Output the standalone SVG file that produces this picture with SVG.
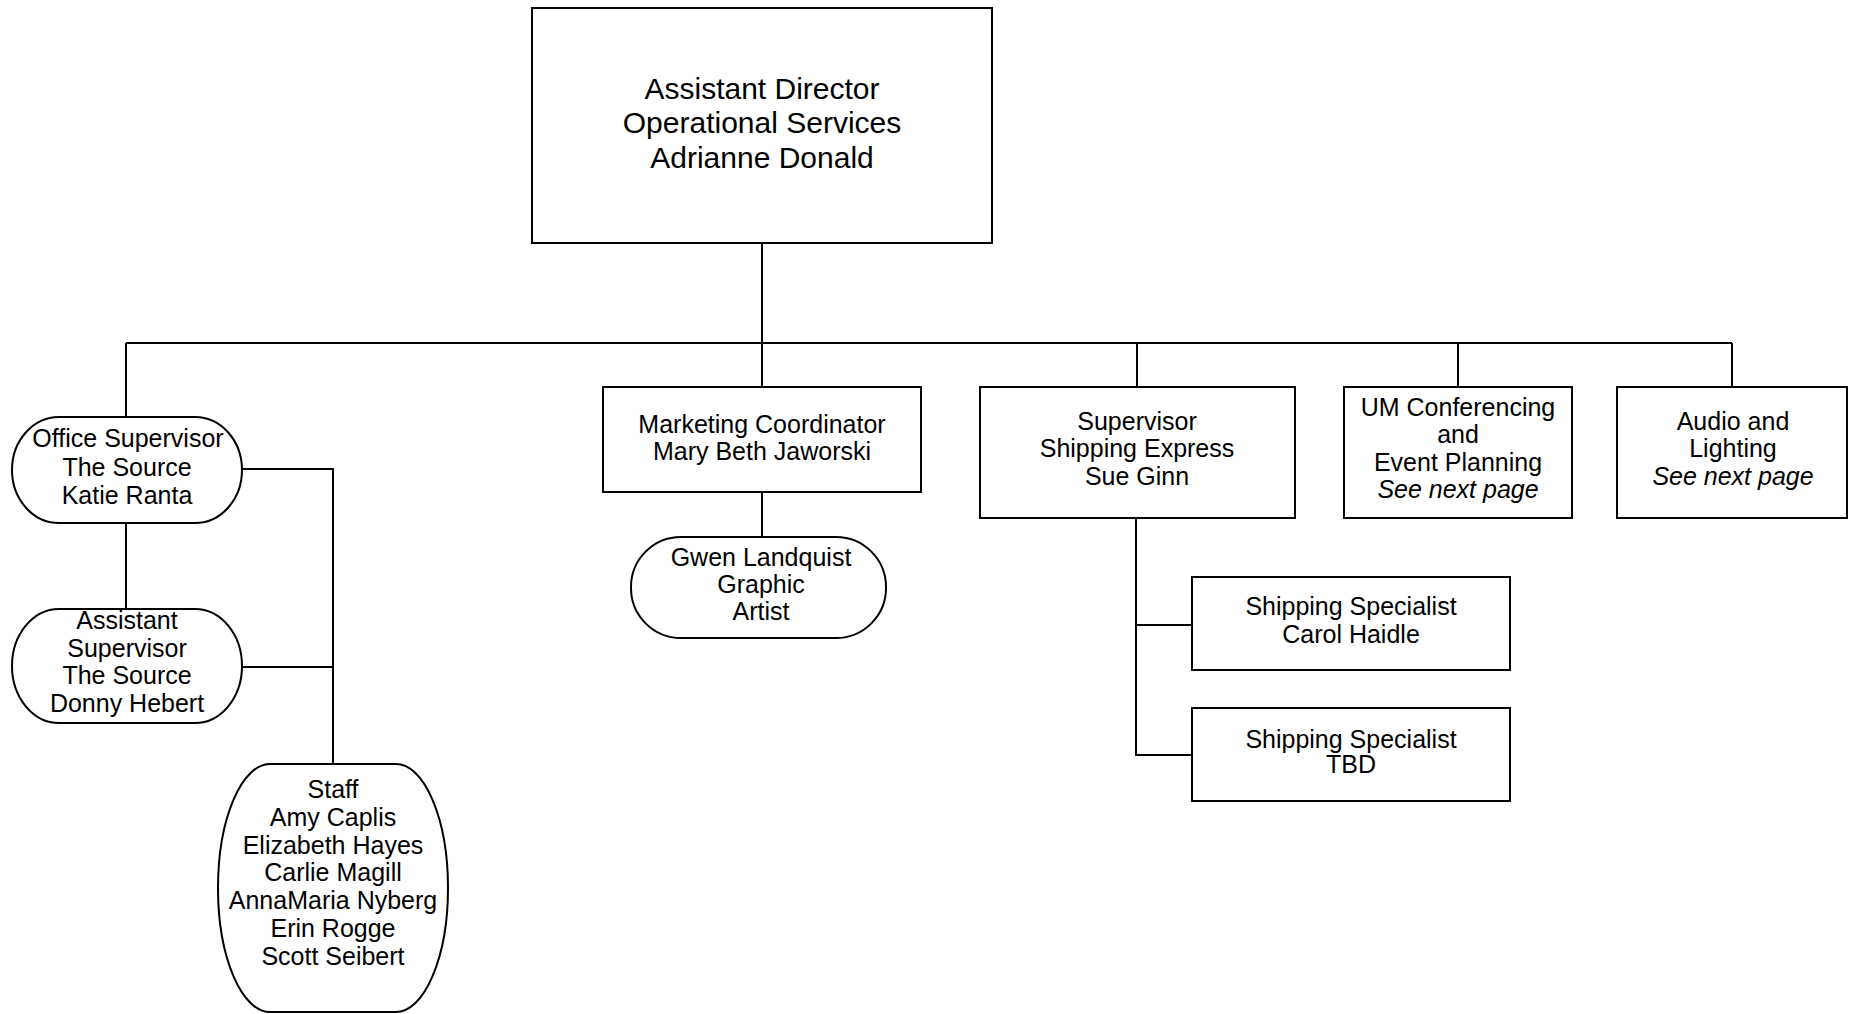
<svg xmlns="http://www.w3.org/2000/svg" width="1858" height="1014" viewBox="0 0 1858 1014">
<style>
.s{fill:#fff;stroke:#000;stroke-width:2}
.c{fill:none;stroke:#000;stroke-width:2}
text{font-family:"Liberation Sans",Arial,sans-serif;font-size:25px;fill:#000;text-anchor:middle}
.big{font-size:30px}
.it{font-style:italic}
</style>
<rect width="1858" height="1014" fill="#fff"/>
<g id="connectors">
<path class="c" d="M762 243V388"/>
<path class="c" d="M126 343H1732"/>
<path class="c" d="M126 343V417"/>
<path class="c" d="M1137 343V387"/>
<path class="c" d="M1458 343V387"/>
<path class="c" d="M1732 343V387"/>
<path class="c" d="M762 492V537"/>
<path class="c" d="M126 523V609"/>
<path class="c" d="M242 469H333V764"/>
<path class="c" d="M242 667H333"/>
<path class="c" d="M1136 518V755H1192"/>
<path class="c" d="M1136 625H1192"/>
</g>
<g id="assistant-director">
<rect class="s" x="532" y="8" width="460" height="235"/>
<text class="big" x="762" y="99">Assistant Director</text>
<text class="big" x="762" y="133">Operational Services</text>
<text class="big" x="762" y="168">Adrianne Donald</text>
</g>
<g id="marketing">
<rect class="s" x="603" y="387" width="318" height="105"/>
<text x="762" y="433">Marketing Coordinator</text>
<text x="762" y="460">Mary Beth Jaworski</text>
</g>
<g id="gwen">
<rect class="s" x="631" y="537" width="255" height="101" rx="50" ry="50"/>
<text x="761" y="566">Gwen Landquist</text>
<text x="761" y="593">Graphic</text>
<text x="761" y="620">Artist</text>
</g>
<g id="office-supervisor">
<rect class="s" x="12" y="417" width="230" height="106" rx="47" ry="53"/>
<text x="128" y="447">Office Supervisor</text>
<text x="127" y="476">The Source</text>
<text x="127" y="504">Katie Ranta</text>
</g>
<g id="assistant-supervisor">
<rect class="s" x="12" y="609" width="230" height="114" rx="47" ry="57"/>
<text x="127" y="629">Assistant</text>
<text x="127" y="657">Supervisor</text>
<text x="127" y="684">The Source</text>
<text x="127" y="712">Donny Hebert</text>
</g>
<g id="staff">
<rect class="s" x="218" y="764" width="230" height="248" rx="52" ry="124"/>
<text x="333" y="798">Staff</text>
<text x="333" y="826">Amy Caplis</text>
<text x="333" y="854">Elizabeth Hayes</text>
<text x="333" y="881">Carlie Magill</text>
<text x="333" y="909">AnnaMaria Nyberg</text>
<text x="333" y="937">Erin Rogge</text>
<text x="333" y="965">Scott Seibert</text>
</g>
<g id="shipping-supervisor">
<rect class="s" x="980" y="387" width="315" height="131"/>
<text x="1137" y="430">Supervisor</text>
<text x="1137" y="457">Shipping Express</text>
<text x="1137" y="485">Sue Ginn</text>
</g>
<g id="um-conferencing">
<rect class="s" x="1344" y="387" width="228" height="131"/>
<text x="1458" y="416">UM Conferencing</text>
<text x="1458" y="443">and</text>
<text x="1458" y="471">Event Planning</text>
<text class="it" x="1458" y="498">See next page</text>
</g>
<g id="audio-lighting">
<rect class="s" x="1617" y="387" width="230" height="131"/>
<text x="1733" y="430">Audio and</text>
<text x="1733" y="457">Lighting</text>
<text class="it" x="1733" y="485">See next page</text>
</g>
<g id="shipping-specialist-1">
<rect class="s" x="1192" y="577" width="318" height="93"/>
<text x="1351" y="615">Shipping Specialist</text>
<text x="1351" y="643">Carol Haidle</text>
</g>
<g id="shipping-specialist-2">
<rect class="s" x="1192" y="708" width="318" height="93"/>
<text x="1351" y="748">Shipping Specialist</text>
<text x="1351" y="773">TBD</text>
</g>
</svg>
